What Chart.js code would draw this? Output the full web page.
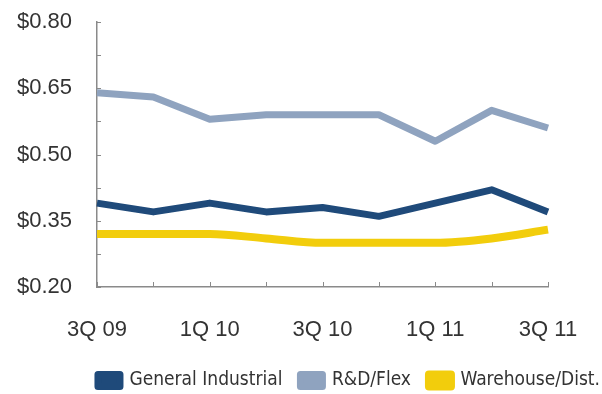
<!DOCTYPE html>
<html>
<head>
<meta charset="utf-8">
<script src="https://cdn.jsdelivr.net/npm/chart.js@4.4.1/dist/chart.umd.min.js"></script>
<style>
  body{margin:0;background:#fff;}
  #wrap{width:602px;height:394px;}
</style>
</head>
<body>
<div id="wrap"><canvas id="lineChart" width="602" height="394"></canvas></div>
<script>
var quarters=["3Q 09","4Q 09","1Q 10","2Q 10","3Q 10","4Q 10","1Q 11","2Q 11","3Q 11"];
var generalIndustrial=[0.39,0.37,0.39,0.37,0.38,0.36,0.39,0.42,0.37];
var rdFlex=[0.64,0.63,0.58,0.59,0.59,0.59,0.53,0.60,0.56];
var warehouse=[0.32,0.32,0.32,0.31,0.30,0.30,0.30,0.31,0.33];
var yTicks=[0.20,0.35,0.50,0.65,0.80];

// small tick marks pointing into the plot, like the original
var innerTicks={
  id:'innerTicks',
  afterDraw:function(chart){
    var ctx=chart.ctx;
    var x=chart.scales.x, y=chart.scales.y;
    var area=chart.chartArea;
    ctx.save();
    ctx.strokeStyle='#8a8a8a';
    ctx.lineWidth=1;
    y.ticks.forEach(function(t){
      var py=Math.round(y.getPixelForValue(t.value))+0.5;
      ctx.beginPath();ctx.moveTo(area.left,py);ctx.lineTo(area.left+4,py);ctx.stroke();
    });
    quarters.forEach(function(q,i){
      var px=Math.round(x.getPixelForValue(i))+0.5;
      ctx.beginPath();ctx.moveTo(px,area.bottom);ctx.lineTo(px,area.bottom-5);ctx.stroke();
    });
    ctx.restore();
  }
};

var ctxL=document.getElementById("lineChart").getContext('2d');
var myLineChart=new Chart(ctxL,{
  type:'line',
  data:{
    labels:quarters,
    datasets:[{
      label:"General Industrial",
      data:generalIndustrial,
      borderColor:'#1f4a7a',
      backgroundColor:'#1f4a7a',
      borderWidth:7,
      pointRadius:0,
      tension:0
    },{
      label:"R&D/Flex",
      data:rdFlex,
      borderColor:'#8fa3bf',
      backgroundColor:'#8fa3bf',
      borderWidth:7,
      pointRadius:0,
      tension:0
    },{
      label:"Warehouse/Dist.",
      data:warehouse,
      borderColor:'#f2cd0c',
      backgroundColor:'#f2cd0c',
      borderWidth:8,
      pointRadius:0,
      cubicInterpolationMode:'monotone'
    }]
  },
  options:{
    responsive:false,
    animation:false,
    layout:{padding:{top:22,right:-16,left:0,bottom:-6}},
    elements:{line:{borderJoinStyle:'round',borderCapStyle:'butt'}},
    scales:{
      x:{
        grid:{display:false},
        border:{display:true,color:'#8a8a8a',width:1.5},
        ticks:{
          autoSkip:false,maxRotation:0,padding:22,color:'#333',
          font:{family:'Liberation Sans, Arial',size:22},
          callback:function(v,i){return i%2==0?quarters[i]:'';}
        },
        afterFit:function(s){s.height=66;}
      },
      y:{
        min:0.20,max:0.80,
        grid:{display:false},
        border:{display:true,color:'#8a8a8a',width:1.5},
        ticks:{
          stepSize:0.075,color:'#333',padding:17,
          font:{family:'Liberation Sans, Arial',size:22},
          callback:function(v){
            var hit=yTicks.some(function(t){return Math.abs(t-v)<0.001;});
            return hit?'$'+v.toFixed(2):'';
          }
        },
        afterFit:function(s){s.width=97;s.paddingTop=0;s.paddingBottom=0;}
      },
      // empty spacer on the right so the plot stops short of the legend's end
      yR:{
        position:'right',
        grid:{display:false},
        border:{display:false},
        ticks:{display:false},
        afterFit:function(s){s.width=70;}
      }
    },
    plugins:{
      tooltip:{enabled:false},
      legend:{
        position:'bottom',
        align:'end',
        labels:{
          boxWidth:22,boxHeight:12,padding:18,color:'#333',
          font:{family:'DejaVu Sans Condensed, Liberation Sans Narrow',size:19}
        }
      }
    }
  },
  plugins:[innerTicks]
});
</script>
</body>
</html>
